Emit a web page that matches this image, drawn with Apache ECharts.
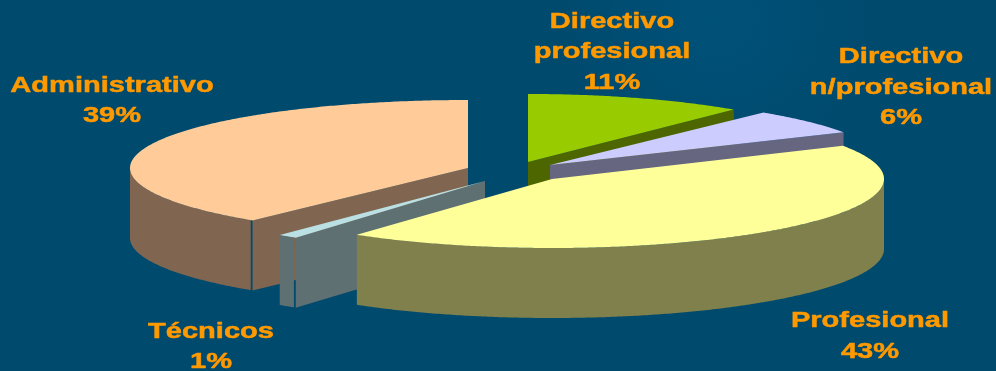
<!DOCTYPE html>
<html>
<head>
<meta charset="utf-8">
<title>Distribución por categoría</title>
<style>html,body{margin:0;padding:0;background:#004A6E}#chart{width:996px;height:371px}</style>
<script src="https://cdn.jsdelivr.net/npm/echarts@6/dist/echarts.min.js"></script>
</head>
<body>
<div id="chart"></div>
<script>
// Share of staff per category, in percent, clockwise from twelve o'clock.
const categories = ['Directivo\nprofesional', 'Directivo\nn/profesional', 'Profesional', 'Técnicos', 'Administrativo'];
const shares = [11, 6, 43, 1, 39];

// Look of each slice: top face, side walls.
const topColors = ['#99CC00', '#CCCCFF', '#FFFF99', '#BBE0E3', '#FFCC99'];
const wallColors = ['#4D6600', '#666680', '#80804D', '#5E7072', '#806650'];

// Exploded layout of each slice: apex position and ellipse radii, in pixels.
const apexX = [528, 550, 552, 485, 468];
const apexY = [162, 165, 179, 181, 168];
const radiusX = [323, 335, 332, 322, 338];
const radiusY = [68, 68, 69, 70, 68];
const DEPTH = 70;
const SEAM_DEGREES = 0.4; // hairline gap between a slice's rim and its radial wall

// Label anchors (block centre).
const labelX = [612, 901, 870, 211, 112];
const labelY = [52, 87.5, 336.5, 347, 101];

// Back-to-front painting order.
const paintOrder = [4, 0, 1, 3, 2];

const startAngles = [];
shares.reduce((sum, v, i) => { startAngles[i] = sum * 3.6; return sum + v; }, 0);

function rimPoint(i, deg, drop) {
  const t = deg * Math.PI / 180;
  return [apexX[i] + radiusX[i] * Math.sin(t), apexY[i] - radiusY[i] * Math.cos(t) + drop];
}

function arcPoints(i, from, to, drop) {
  const pts = [];
  const steps = Math.max(2, Math.ceil((to - from) * 2));
  for (let k = 0; k <= steps; k++) pts.push(rimPoint(i, from + (to - from) * k / steps, drop));
  return pts;
}

function polygon(points, fill) {
  return { type: 'polygon', shape: { points }, style: { fill, stroke: null } };
}

function radialWall(i, deg) {
  const apex = [apexX[i], apexY[i]];
  return polygon([apex, rimPoint(i, deg, 0), rimPoint(i, deg, DEPTH), [apex[0], apex[1] + DEPTH]], wallColors[i]);
}

function renderSlice(params, api) {
  const i = api.value(0);
  const from = startAngles[i];
  const to = from + api.value(1) * 3.6;
  const children = [];

  // Radial wall facing the viewer: end edge on the right half, start edge on the left.
  if (to < 180) children.push(radialWall(i, to));
  const startFacesViewer = from >= 180;
  if (startFacesViewer) children.push(radialWall(i, from));

  // Outer rim, only the part on the near half of the ellipse.
  const rimFrom = Math.max(from + (startFacesViewer ? SEAM_DEGREES : 0), 90);
  const rimTo = Math.min(to, 270);
  if (rimTo > rimFrom) {
    const upper = arcPoints(i, rimFrom, rimTo, 0);
    const lower = arcPoints(i, rimFrom, rimTo, DEPTH).reverse();
    children.push(polygon(upper.concat(lower), wallColors[i]));
  }

  // Top face.
  children.push(polygon([[apexX[i], apexY[i]]].concat(arcPoints(i, from, to, 0)), topColors[i]));

  return { type: 'group', children };
}

function renderLabel(params, api) {
  const i = api.value(0);
  return {
    type: 'text',
    x: labelX[i],
    y: labelY[i],
    scaleX: 1.32,
    style: {
      text: categories[i] + '\n' + api.value(1) + '%',
      fill: '#FF9900',
      stroke: '#FF9900',
      lineWidth: 0.5,
      font: 'bold 22px "Liberation Sans", Arial, sans-serif',
      lineHeight: 30.5,
      align: 'center',
      verticalAlign: 'middle'
    }
  };
}

const chart = echarts.init(document.getElementById('chart'), null, { renderer: 'canvas' });
chart.setOption({
  animation: false,
  backgroundColor: {
    type: 'radial', x: 0.72, y: 0.05, r: 0.42,
    colorStops: [{ offset: 0, color: '#005179' }, { offset: 1, color: '#004A6E' }]
  },
  tooltip: { show: false },
  series: [
    {
      type: 'custom',
      coordinateSystem: 'none',
      silent: true,
      renderItem: renderSlice,
      data: paintOrder.map(i => [i, shares[i]])
    },
    {
      type: 'custom',
      coordinateSystem: 'none',
      silent: true,
      z: 3,
      renderItem: renderLabel,
      data: shares.map((v, i) => [i, v])
    }
  ]
});
</script>
</body>
</html>
